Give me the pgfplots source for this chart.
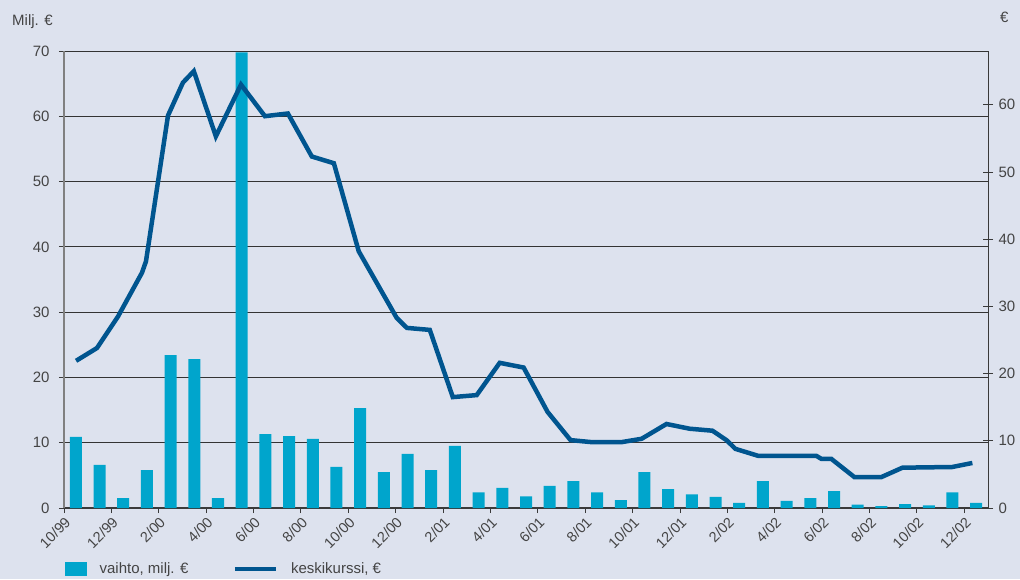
\documentclass[border=0pt]{standalone}
\usepackage{pgfplots}
\pgfplotsset{compat=1.18}
\usepackage{fontspec}
\setmainfont{Liberation Sans}
\definecolor{bg}{HTML}{DDE2EE}
\definecolor{barc}{HTML}{00A5CC}
\definecolor{linec}{HTML}{00558F}
\definecolor{gridc}{HTML}{333333}
\definecolor{axc}{HTML}{3A3A3A}
\definecolor{textc}{HTML}{444444}
\begin{document}
\begin{tikzpicture}
\fill[bg] (-64pt,-71pt) rectangle (956pt,508pt);
\begin{axis}[
  at={(0pt,0pt)}, anchor=south west, scale only axis,
  width=924pt, height=457pt,
  xmin=0, xmax=39, ymin=0, ymax=70,
  axis x line*=bottom, axis y line*=left,
  x axis line style={-, draw=axc, line width=1.2pt},
  y axis line style={-, draw=gray, line width=1.6pt},
  xtick={0,2,...,38},
  xticklabels={10/99,12/99,2/00,4/00,6/00,8/00,10/00,12/00,2/01,4/01,6/01,8/01,10/01,12/01,2/02,4/02,6/02,8/02,10/02,12/02},
  ytick={0,10,...,70},
  tick align=outside, major tick length=5pt,
  tick style={draw=axc, line width=0.9pt},
  ymajorgrids, major grid style={draw=gridc, line width=0.9pt},
  /pgf/number format/assume math mode=true,
  tick label style={font=\fontsize{15}{17}\selectfont, text=textc},
  xticklabel style={rotate=45, anchor=north east, inner sep=2pt, font=\fontsize{14.5}{17}\selectfont},
  yticklabel style={xshift=-6pt},
  ybar, bar width=12pt,
]
\addplot[fill=barc, draw=none] coordinates {
(0.5,10.9) (1.5,6.6) (2.5,1.5) (3.5,5.8) (4.5,23.4) (5.5,22.8) (6.5,1.5) (7.5,69.8)
(8.5,11.3) (9.5,11.0) (10.5,10.6) (11.5,6.3) (12.5,15.3) (13.5,5.5) (14.5,8.3) (15.5,5.8)
(16.5,9.5) (17.5,2.4) (18.5,3.1) (19.5,1.8) (20.5,3.4) (21.5,4.1) (22.5,2.4) (23.5,1.2)
(24.5,5.5) (25.5,2.9) (26.5,2.1) (27.5,1.7) (28.5,0.8) (29.5,4.1) (30.5,1.1) (31.5,1.5)
(32.5,2.6) (33.5,0.5) (34.5,0.3) (35.5,0.6) (36.5,0.4) (37.5,2.4) (38.5,0.8)
};
\end{axis}
\begin{axis}[
  at={(0pt,0pt)}, anchor=south west, scale only axis,
  width=924pt, height=457pt,
  xmin=0, xmax=39, ymin=0, ymax=68,
  axis x line=none, axis y line*=right,
  y axis line style={-, draw=axc, line width=1pt},
  ytick={0,10,...,60},
  tick align=center, major tick length=10pt,
  tick style={draw=axc, line width=0.9pt},
  /pgf/number format/assume math mode=true,
  tick label style={font=\fontsize{15}{17}\selectfont, text=textc},
  yticklabel style={xshift=2pt},
  legend columns=2,
  legend style={draw=none, fill=none, at={(0,0)}, anchor=west, xshift=-2pt, yshift=-61pt,
    font=\fontsize{15}{17}\selectfont, text=textc,
    nodes={inner sep=0pt},
    /tikz/every odd column/.append style={column sep=13pt},
    /tikz/every even column/.append style={column sep=44pt}},
]
\addlegendimage{legend image code/.code={\fill[barc] (0pt,-6.5pt) rectangle (21pt,6.5pt);}}
\addlegendentry{vaihto, milj. €}
\addplot[linec, line width=4.5pt, line join=miter, legend image code/.code={\draw[linec, line width=4.5pt] (0pt,0pt) -- (41pt,0pt);}] coordinates {
(0.51,21.9) (1.39,23.8) (2.28,28.5) (3.29,35.0) (3.46,36.7) (4.39,58.4) (5.02,63.3)
(5.48,65.0) (6.41,55.3) (7.47,63.0) (8.48,58.3) (9.45,58.7) (10.46,52.3) (11.39,51.3)
(12.44,38.2) (14.04,28.3) (14.47,26.8) (15.44,26.5) (16.41,16.5) (17.42,16.8) (18.39,21.6)
(19.40,20.9) (20.41,14.3) (21.38,10.1) (22.27,9.8) (23.53,9.8) (24.38,10.3) (25.43,12.5)
(26.40,11.8) (27.37,11.5) (27.96,10.1) (28.34,8.8) (29.31,7.75) (31.76,7.75) (31.97,7.3)
(32.39,7.3) (33.36,4.6) (34.5,4.6) (35.39,6.0) (37.49,6.1) (38.34,6.7)
};
\addlegendentry{keskikurssi, €}
\end{axis}
\node[anchor=base west, font=\fontsize{15}{17}\selectfont, text=textc, inner sep=0pt] at (-52pt,482pt) {Milj. €};
\node[anchor=base west, font=\fontsize{15}{17}\selectfont, text=textc, inner sep=0pt] at (936pt,485pt) {€};
\end{tikzpicture}
\end{document}
